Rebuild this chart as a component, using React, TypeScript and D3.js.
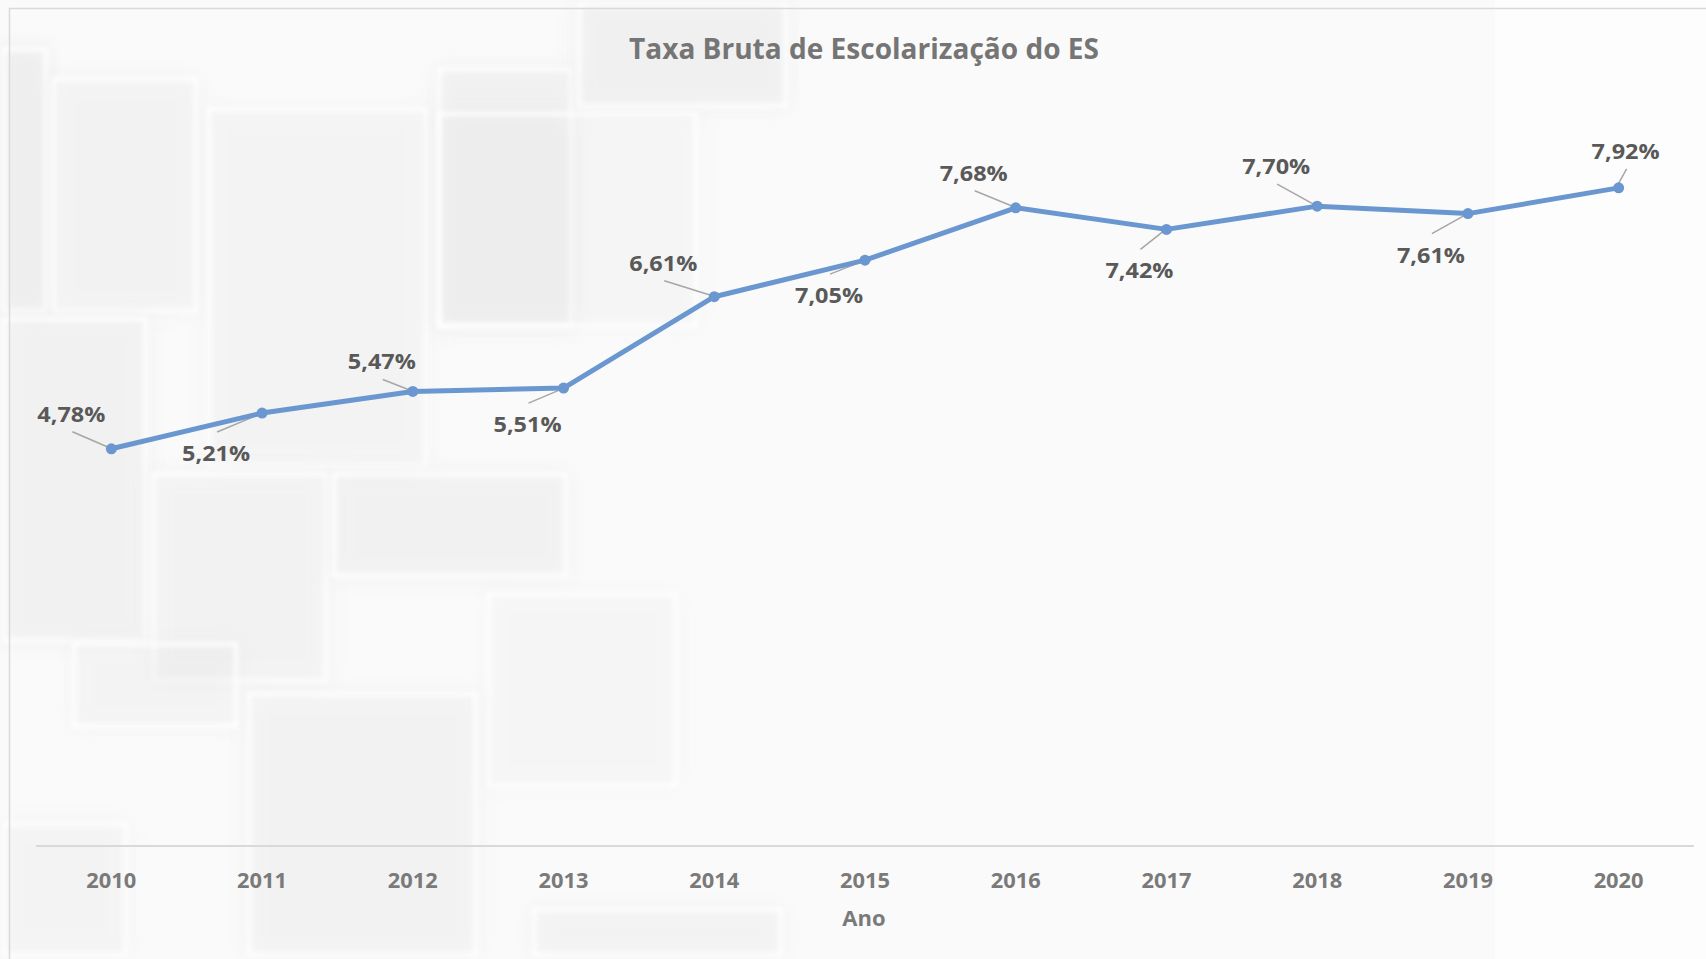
import React from "react";
import * as d3 from "d3";

const years = ["2010", "2011", "2012", "2013", "2014", "2015", "2016", "2017", "2018", "2019", "2020"];
const rates = [4.78, 5.21, 5.47, 5.51, 6.61, 7.05, 7.68, 7.42, 7.70, 7.61, 7.92];
const labelTexts = ["4,78%", "5,21%", "5,47%", "5,51%", "6,61%", "7,05%", "7,68%", "7,42%", "7,70%", "7,61%", "7,92%"];
// label placement offsets (label centre relative to point), px
const labelDx = [-40, -46, -31, -36, -51, -36, -42, -27, -41, -37, 7];
const labelDy = [-35, 40, -30, 36, -34, 35, -35, 41, -40, 41, -37];

const title = "Taxa Bruta de Escolarização do ES";
const xTitle = "Ano";

// decorative background blocks [x, y, w, h, shade]
const bgBlocks: [number, number, number, number, number][] = [
  [0, 45, 50, 270, 0.5],
  [50, 75, 150, 240, 0.3],
  [205, 105, 225, 365, 0.25],
  [435, 65, 140, 265, 0.4],
  [575, 0, 215, 110, 0.4],
  [435, 110, 265, 220, 0.2],
  [0, 315, 150, 330, 0.35],
  [150, 470, 180, 215, 0.3],
  [330, 470, 240, 110, 0.35],
  [485, 590, 195, 200, 0.18],
  [245, 690, 235, 269, 0.3],
  [530, 905, 255, 54, 0.3],
  [70, 640, 170, 90, 0.25],
  [0, 820, 130, 139, 0.25],
];

const W = 1706;
const H = 959;

export default function App() {
  const x = d3.scaleBand<string>().domain(years).range([36, 1694]);
  const y = d3.scaleLinear().domain([0, 10]).range([846, 15]);
  const cx = (d: string) => (x(d) ?? 0) + x.bandwidth() / 2;

  const line = d3
    .line<number>()
    .x((_, i) => cx(years[i]))
    .y((d) => y(d));

  const font = "'Open Sans', 'Noto Sans', sans-serif";

  return (
    <div style={{ position: "absolute", left: 0, top: 0 }}>
      <svg width={W} height={H} style={{ display: "block" }}>
        <defs>
          <filter id="blur" x="-20%" y="-20%" width="140%" height="140%">
            <feGaussianBlur stdDeviation="10" />
          </filter>
          <filter id="blur2" x="-20%" y="-20%" width="140%" height="140%">
            <feGaussianBlur stdDeviation="2" />
          </filter>
        </defs>
        <rect x={0} y={0} width={W} height={H} fill="#fdfdfd" />
        <rect x={0} y={0} width={1495} height={H} fill="#fafafa" />
        <g>
          {bgBlocks.map(([bx, by, bw, bh, s], i) => (
            <g key={i}>
              <rect x={bx} y={by} width={bw} height={bh} fill="#e2e2e2" opacity={s} filter="url(#blur)" />
              <rect
                x={bx + 4}
                y={by + 4}
                width={Math.max(bw - 8, 0)}
                height={Math.max(bh - 8, 0)}
                fill="none"
                stroke="#ffffff"
                strokeWidth={4}
                opacity={0.9}
                filter="url(#blur2)"
              />
            </g>
          ))}
        </g>
        {/* chart frame */}
        <rect x={9.5} y={8.5} width={W + 20} height={H + 20} fill="none" stroke="#d9d9d9" strokeWidth={1.5} />

        {/* title */}
        <text
          x={864}
          y={59}
          textAnchor="middle"
          fontFamily={font}
          fontWeight={700}
          fontSize={29}
          fill="#757575"
          textLength={470}
          lengthAdjust="spacingAndGlyphs"
        >
          {title}
        </text>

        {/* category axis */}
        <line x1={36} x2={1694} y1={y(0)} y2={y(0)} stroke="#d9d9d9" strokeWidth={2} />
        {years.map((yr) => (
          <text
            key={yr}
            x={cx(yr)}
            y={888}
            textAnchor="middle"
            fontFamily={font}
            fontWeight={700}
            fontSize={22}
            fill="#7a7a7a"
            textLength={50}
            lengthAdjust="spacingAndGlyphs"
          >
            {yr}
          </text>
        ))}
        <text
          x={864}
          y={926}
          textAnchor="middle"
          fontFamily={font}
          fontWeight={700}
          fontSize={22}
          fill="#7a7a7a"
        >
          {xTitle}
        </text>

        {/* leader lines */}
        {rates.map((v, i) => {
          const px = cx(years[i]);
          const py = y(v);
          const lx = px + labelDx[i];
          const ly = py + labelDy[i];
          const sy = labelDy[i] < 0 ? ly + 18 : ly - 21;
          return (
            <line key={"ld" + i} x1={lx + 1} y1={sy} x2={px - 2} y2={py + (labelDy[i] < 0 ? -1 : 1)} stroke="#a6a6a6" strokeWidth={1.5} />
          );
        })}

        {/* series line */}
        <path d={line(rates) ?? ""} fill="none" stroke="#6a97cf" strokeWidth={5} strokeLinejoin="round" />
        {rates.map((v, i) => (
          <circle key={"m" + i} cx={cx(years[i])} cy={y(v)} r={5.5} fill="#6a97cf" />
        ))}

        {/* data labels */}
        {rates.map((v, i) => (
          <text
            key={"lb" + i}
            x={cx(years[i]) + labelDx[i]}
            y={y(v) + labelDy[i] + 8}
            textAnchor="middle"
            fontFamily={font}
            fontWeight={700}
            fontSize={22}
            fill="#595959"
            textLength={68}
            lengthAdjust="spacingAndGlyphs"
          >
            {labelTexts[i]}
          </text>
        ))}
      </svg>
    </div>
  );
}
